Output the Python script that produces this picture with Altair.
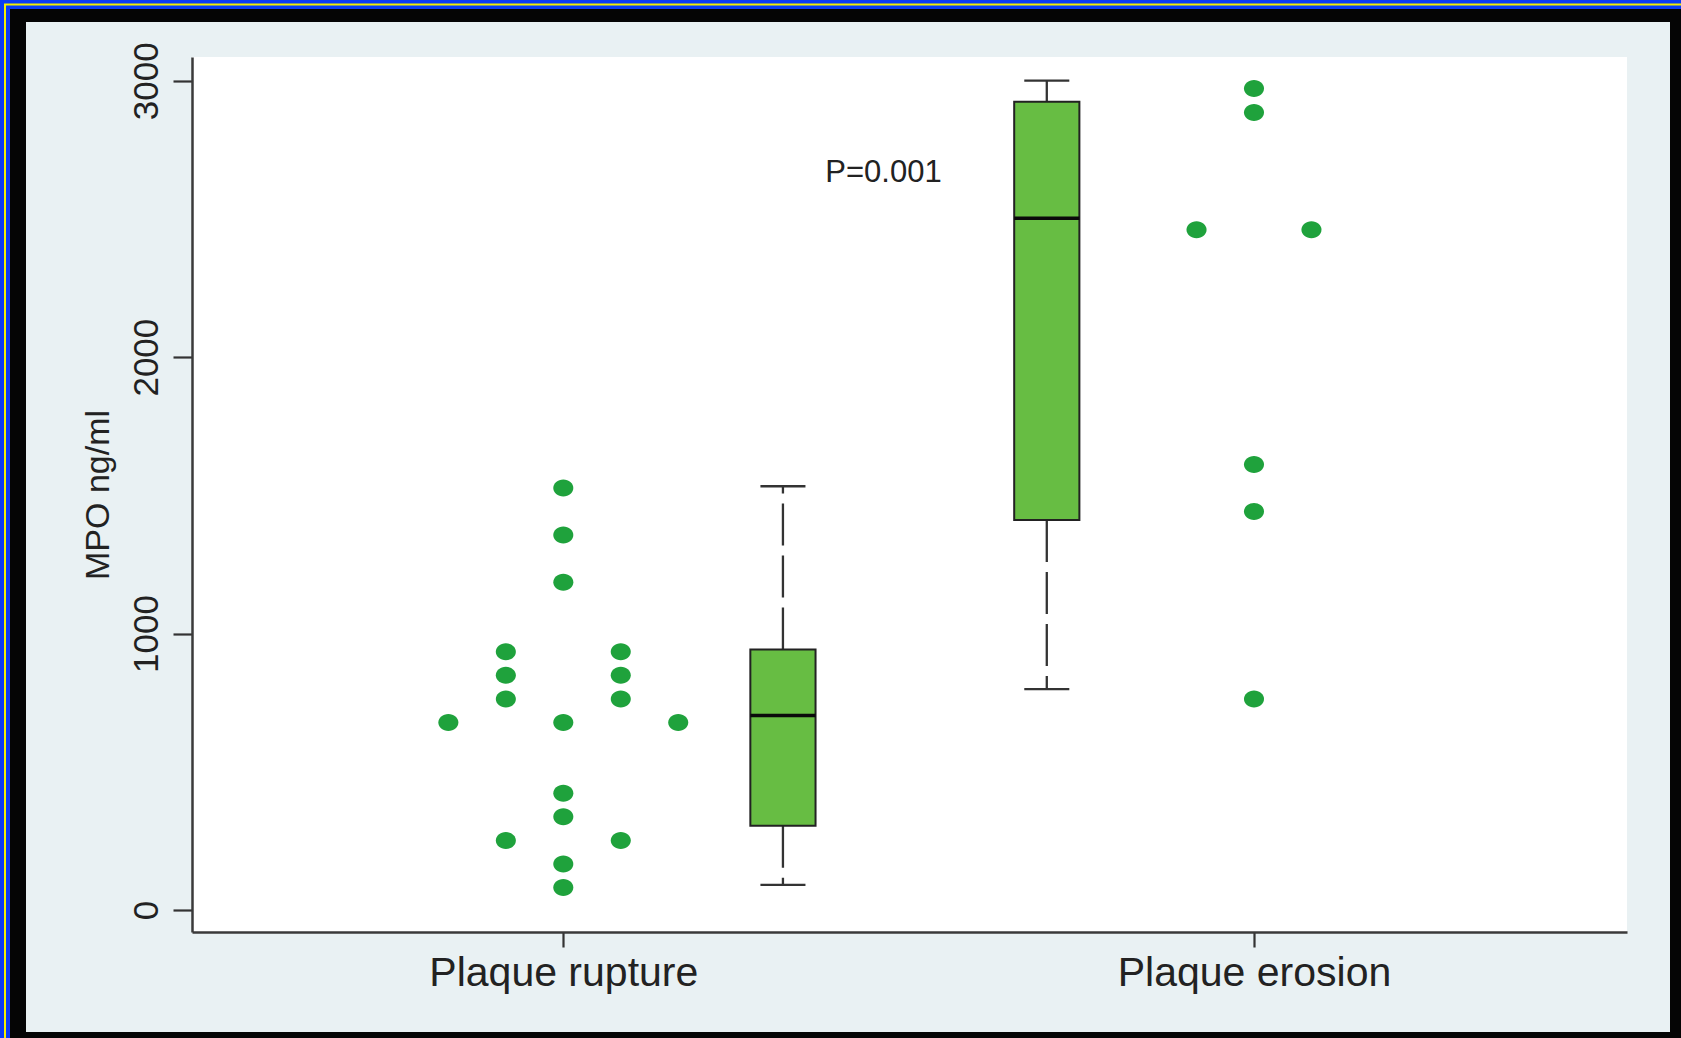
import altair as alt
import pandas as pd

# ---------------- data ----------------
CATEGORIES = ["Plaque rupture", "Plaque erosion"]

# dot plot: (binned) value of each dot and its column slot within its row
rupture_values = [1527, 1357, 1186, 934, 934, 849, 849, 763, 763, 678, 678, 678, 422, 337, 251, 251, 166, 81]
rupture_slots = [0, 0, 0, -1, 1, -1, 1, -1, 1, -2, 0, 2, 0, 0, -1, 1, 0, 0]
erosion_values = [2972, 2885, 2461, 2461, 1612, 1442, 763]
erosion_slots = [0, 0, -1, 1, 0, 0, 0]

# box plot statistics (rupture, erosion)
box_low = [91, 799]
box_q1 = [305, 1411]
box_median = [704, 2502]
box_q3 = [942, 2924]
box_high = [1533, 3000]
box_pos = [1.318, 1.700]

y_ticks = [0, 1000, 2000, 3000]
x_ticks = [1, 2]

p_text = ["P=0.001"]
p_x = [1.4636]
p_y = [2635]

# ---------------- layout / style ----------------
PAGE_W, PAGE_H = 1681, 1038
OX, OY = 192, 57            # plot origin on the page
W, H = 1435, 875            # plot area
DOT_STEP = 0.0832
BOX_HALF = 0.0472
CAP_HALF = 0.0326
FONT = "Liberation Sans, Arial, Helvetica, sans-serif"
TEXT = "#222222"
DOT_GREEN = "#1fa23c"
BOX_GREEN = "#67bd43"

FRAME = [  # absolute page rectangles: x0, y0, x1, y1, colour
    (0, 0, PAGE_W, 22, "#050505"),
    (0, 0, 26, PAGE_H, "#050505"),
    (1670, 0, PAGE_W, PAGE_H, "#050505"),
    (0, 1032, PAGE_W, PAGE_H, "#050505"),
    (0, 0, PAGE_W, 9, "#0b3cf5"),
    (0, 0, 10, PAGE_H, "#0b3cf5"),
    (4, 3.5, PAGE_W, 5.5, "#f5f000"),
    (4, 4, 6, PAGE_H, "#f5f000"),
]

ELLIPSE = "M -1.18 0 A 1.18 1 0 1 0 1.18 0 A 1.18 1 0 1 0 -1.18 0 Z"

# ---------------- tables ----------------
dots = pd.DataFrame({
    "x": [1 + s * DOT_STEP for s in rupture_slots] + [2 + s * DOT_STEP for s in erosion_slots],
    "y": rupture_values + erosion_values,
})

boxes = pd.DataFrame({
    "x": [p - BOX_HALF for p in box_pos],
    "x2": [p + BOX_HALF for p in box_pos],
    "y": box_q1,
    "y2": box_q3,
})
medians = pd.DataFrame({
    "x": [p - BOX_HALF for p in box_pos],
    "x2": [p + BOX_HALF for p in box_pos],
    "y": box_median,
})
caps = pd.DataFrame({
    "x": [p - CAP_HALF for p in box_pos] * 2,
    "x2": [p + CAP_HALF for p in box_pos] * 2,
    "y": box_high + box_low,
})
whiskers = pd.DataFrame({
    "x": box_pos * 2,
    "y": box_q3 + box_q1,
    "y2": box_high + box_low,
})
ptab = pd.DataFrame({"x": p_x, "y": p_y, "t": p_text})

# ---------------- scales & axes ----------------
px_per_unit = (1254 - 563.3)
x_lo = 1 - (563.3 - OX) / px_per_unit
x_hi = 2 + (OX + W - 1254) / px_per_unit
X_SCALE = alt.Scale(domain=[x_lo, x_hi], nice=False, zero=False)

px_per_val = (910 - 80.7) / 3000
y_lo = -(OY + H - 910) / px_per_val
y_hi = 3000 + (80.7 - OY) / px_per_val
Y_SCALE = alt.Scale(domain=[y_lo, y_hi], nice=False, zero=False)

label_expr = "['" + "','".join(CATEGORIES) + "'][datum.value - 1]"

X_AXIS = alt.Axis(
    values=x_ticks, labelExpr=label_expr, grid=False, title="",
    tickSize=15, tickWidth=2.2, tickColor="#333333",
    domainColor="#3a3a3a", domainWidth=2.5,
    labelFont=FONT, labelFontSize=41, labelColor=TEXT, labelLimit=0,
    labelBaseline="alphabetic", labelPadding=38, labelAlign="center",
    labelFlush=False, labelOverlap=False, zindex=1,
)
Y_AXIS = alt.Axis(
    values=y_ticks, format="d", grid=False, title="MPO ng/ml",
    tickSize=19, tickWidth=2.2, tickColor="#333333",
    domainColor="#3a3a3a", domainWidth=2.5,
    labelFont=FONT, labelFontSize=35, labelColor=TEXT, labelLimit=0,
    labelAngle=270, labelAlign="center", labelBaseline="alphabetic",
    labelPadding=16, labelFlush=False, labelOverlap=False,
    titleFont=FONT, titleFontSize=34, titleFontWeight="normal", titleColor=TEXT,
    titleAngle=270, titleAlign="center", titleBaseline="alphabetic",
    titleX=-84, titleY=H / 2, zindex=1,
)


def X(f="x"):
    return alt.X(f + ":Q", scale=X_SCALE, axis=X_AXIS)


def Y(f="y"):
    return alt.Y(f + ":Q", scale=Y_SCALE, axis=Y_AXIS)


# ---------------- layers ----------------
one = pd.DataFrame({"k": [0]})
frame_layers = [
    alt.Chart(one).mark_rect(color=c).encode(
        x=alt.value(x0 - OX), x2=alt.value(x1 - OX),
        y=alt.value(y0 - OY), y2=alt.value(y1 - OY),
    )
    for (x0, y0, x1, y1, c) in FRAME
]

whisker_layer = alt.Chart(whiskers).mark_rule(
    color="#333333", strokeWidth=2.3, strokeDash=[42, 10]
).encode(x=X(), y=Y(), y2=alt.Y2("y2:Q"))

cap_layer = alt.Chart(caps).mark_rule(color="#333333", strokeWidth=2.3).encode(
    x=X(), x2=alt.X2("x2:Q"), y=Y()
)

box_layer = alt.Chart(boxes).mark_rect(
    fill=BOX_GREEN, stroke="#222222", strokeWidth=2
).encode(x=X(), x2=alt.X2("x2:Q"), y=Y(), y2=alt.Y2("y2:Q"))

median_layer = alt.Chart(medians).mark_rule(color="#0a0a0a", strokeWidth=3.5).encode(
    x=X(), x2=alt.X2("x2:Q"), y=Y()
)

dot_layer = alt.Chart(dots).mark_point(
    shape=ELLIPSE, filled=True, size=289, color=DOT_GREEN, opacity=1, strokeWidth=0
).encode(x=X(), y=Y())

text_layer = alt.Chart(ptab).mark_text(
    font=FONT, fontSize=31, color=TEXT, align="center", baseline="alphabetic"
).encode(x=X(), y=Y(), text="t:N")

chart = alt.layer(
    *frame_layers, whisker_layer, cap_layer, box_layer, median_layer, dot_layer, text_layer
).properties(
    width=W, height=H,
    padding={"left": OX, "top": OY, "right": PAGE_W - OX - W, "bottom": PAGE_H - OY - H},
    autosize=alt.AutoSizeParams(type="none"),
    background="#e9f1f3",
).configure_view(fill="#ffffff", strokeWidth=0)

chart.save("out.html", embed_options={"renderer": "svg", "actions": False})
